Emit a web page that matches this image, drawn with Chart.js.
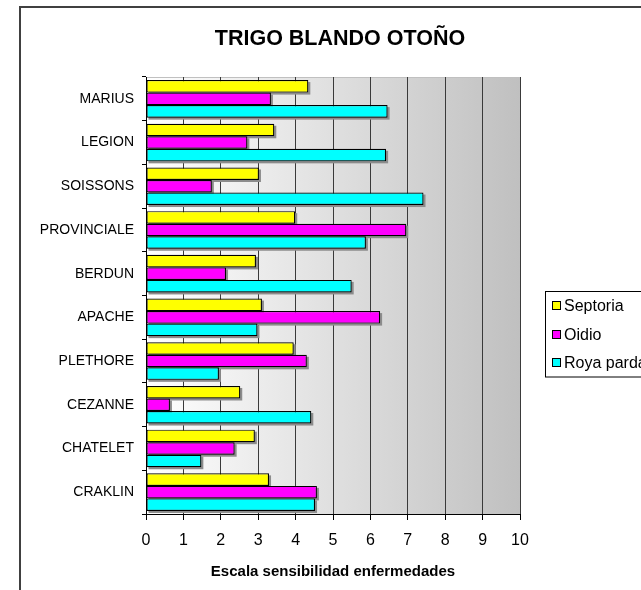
<!DOCTYPE html>
<html>
<head>
<meta charset="utf-8">
<script src="https://cdn.jsdelivr.net/npm/chart.js@4.4.0/dist/chart.umd.min.js"></script>
<style>
  html, body { margin: 0; padding: 0; background: #fff; overflow: hidden; }
  #wrap { position: relative; width: 641px; height: 590px; }
</style>
</head>
<body>
<div id="wrap"><canvas id="chart" width="641" height="590"></canvas></div>
<script>
  const FONT = '"Liberation Sans", Arial, sans-serif';
  const chartTitle = 'TRIGO BLANDO OTOÑO';
  const axisTitle = 'Escala sensibilidad enfermedades';

  // varieties, top to bottom
  const varieties = ['MARIUS', 'LEGION', 'SOISSONS', 'PROVINCIALE', 'BERDUN', 'APACHE', 'PLETHORE', 'CEZANNE', 'CHATELET', 'CRAKLIN'];
  const septoria  = [4.34, 3.43, 3.02, 3.99, 2.94, 3.10, 3.95, 2.52, 2.91, 3.29];
  const oidio     = [3.34, 2.71, 1.76, 6.96, 2.14, 6.26, 4.30, 0.64, 2.37, 4.57];
  const royaParda = [6.46, 6.42, 7.42, 5.88, 5.50, 2.98, 1.95, 4.42, 1.48, 4.52];
  const scaleMin = 0;
  const scaleMax = 10;

  /** outer frame, plot area gradient + light top edge */
  const plotBackground = {
    id: 'plotBackground',
    beforeDraw(chart) {
      const { ctx, chartArea: a } = chart;
      ctx.save();
      // frame runs off the right and bottom edges
      ctx.strokeStyle = '#404040';
      ctx.lineWidth = 2;
      ctx.strokeRect(20, 7, 1000, 1000);
      const g = ctx.createLinearGradient(a.left, 0, a.right, 0);
      g.addColorStop(0, '#ffffff');
      g.addColorStop(1, '#c0c0c0');
      ctx.fillStyle = g;
      ctx.fillRect(a.left, a.top, a.right - a.left, a.bottom - a.top);
      ctx.strokeStyle = '#c0c0c0';
      ctx.lineWidth = 1;
      ctx.beginPath();
      ctx.moveTo(a.left, a.top + 0.5);
      ctx.lineTo(a.right, a.top + 0.5);
      ctx.stroke();
      ctx.restore();
    }
  };

  /** gray drop shadow behind each bar */
  const barShadow = {
    id: 'barShadow',
    beforeDatasetsDraw(chart) {
      const ctx = chart.ctx;
      ctx.save();
      ctx.fillStyle = '#8c8c8c';
      chart.data.datasets.forEach((ds, i) => {
        chart.getDatasetMeta(i).data.forEach(bar => {
          const { x, y, base, height } = bar.getProps(['x', 'y', 'base', 'height'], true);
          ctx.fillRect(Math.min(base, x) + 2, y - height / 2 + 2, Math.abs(x - base), height);
        });
      });
      ctx.restore();
    }
  };

  /** title, centred over the whole frame */
  const titlePlugin = {
    id: 'titlePlugin',
    afterDraw(chart) {
      const ctx = chart.ctx;
      ctx.save();
      ctx.font = 'bold 21.5px ' + FONT;
      ctx.fillStyle = '#000';
      ctx.textAlign = 'center';
      ctx.textBaseline = 'middle';
      ctx.fillText(chartTitle, 340, 39);
      ctx.restore();
    }
  };

  /** boxed legend, clipped by the right edge like the original */
  const boxLegend = {
    id: 'boxLegend',
    afterDraw(chart) {
      const ctx = chart.ctx;
      ctx.save();
      ctx.fillStyle = '#fff';
      ctx.fillRect(545.5, 291.5, 200, 85.5);
      ctx.strokeStyle = '#000';
      ctx.lineWidth = 1;
      ctx.strokeRect(545.5, 291.5, 200, 85.5);
      ctx.font = '16px ' + FONT;
      ctx.textAlign = 'left';
      ctx.textBaseline = 'middle';
      chart.data.datasets.forEach((ds, i) => {
        const cy = Math.round(306 + i * 28.5);
        ctx.fillStyle = ds.backgroundColor;
        ctx.fillRect(552.5, cy - 4.5, 8, 8);
        ctx.strokeRect(552.5, cy - 4.5, 8, 8);
        ctx.fillStyle = '#000';
        ctx.fillText(ds.label, 564, cy + 1);
      });
      ctx.restore();
    }
  };

  new Chart(document.getElementById('chart'), {
    type: 'bar',
    data: {
      labels: varieties,
      datasets: [
        { label: 'Septoria', data: septoria, backgroundColor: '#ffff00' },
        { label: 'Oidio', data: oidio, backgroundColor: '#ff00ff' },
        { label: 'Roya parda', data: royaParda, backgroundColor: '#00ffff' }
      ]
    },
    options: {
      indexAxis: 'y',
      responsive: false,
      animation: false,
      layout: { padding: { left: 0, right: 121, top: 77, bottom: 0 } },
      datasets: {
        bar: {
          borderColor: '#000',
          borderWidth: 1.2,
          borderSkipped: false,
          categoryPercentage: 0.86,
          barPercentage: 1
        }
      },
      plugins: {
        legend: { display: false },
        title: { display: false },
        tooltip: { enabled: false }
      },
      scales: {
        x: {
          min: scaleMin,
          max: scaleMax,
          ticks: { stepSize: 1, color: '#000', font: { family: FONT, size: 16 }, padding: 11 },
          grid: { color: '#3a3a3a', tickLength: 6, tickColor: '#000' },
          border: { color: '#000', width: 1 },
          title: {
            display: true,
            text: axisTitle,
            color: '#000',
            font: { family: FONT, size: 15, weight: 'bold' },
            padding: { top: 0, bottom: 9 }
          },
          afterFit(scale) { scale.height = 76; }
        },
        y: {
          ticks: { color: '#000', font: { family: FONT, size: 14 }, padding: 8 },
          grid: { drawOnChartArea: false, tickLength: 4, color: '#000' },
          border: { color: '#000', width: 1 },
          afterFit(scale) { scale.width = 146; }
        }
      }
    },
    plugins: [plotBackground, barShadow, titlePlugin, boxLegend]
  });
</script>
</body>
</html>
